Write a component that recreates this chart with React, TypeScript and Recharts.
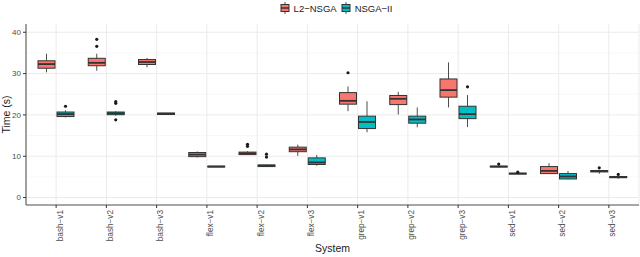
import React from "react";
import { ComposedChart, Bar, XAxis, YAxis, CartesianGrid } from "recharts";

const systems = [
  "bash−v1", "bash−v2", "bash−v3",
  "flex−v1", "flex−v2", "flex−v3",
  "grep−v1", "grep−v2", "grep−v3",
  "sed−v1", "sed−v2", "sed−v3",
];

// L2-NSGA box stats
const l2Low = [30.3, 30.7, 31.5, 9.7, 10.3, 10.1, 20.9, 20.1, 21.8, 7.3, 5.7, 5.75];
const l2Q1 = [31.3, 31.9, 32.2, 9.9, 10.4, 11.1, 22.6, 22.5, 24.3, 7.4, 5.8, 6.2];
const l2Med = [32.3, 32.6, 32.8, 10.4, 10.7, 11.65, 23.4, 23.9, 26.0, 7.5, 6.45, 6.4];
const l2Q3 = [33.1, 33.7, 33.4, 10.9, 11.0, 12.2, 25.4, 24.7, 28.7, 7.6, 7.5, 6.55];
const l2High = [34.8, 34.8, 33.8, 11.15, 11.2, 12.8, 26.9, 25.6, 32.7, 7.7, 8.3, 6.7];
const l2Out = [[], [36.6, 38.3], [], [], [12.4, 12.9], [], [30.2], [], [], [8.1], [], [7.2]];

// NSGA-II box stats
const nsLow = [19.4, 19.8, 20.0, 7.35, 7.4, 7.7, 15.8, 17.0, 17.05, 5.65, 4.4, 4.55];
const nsQ1 = [19.6, 20.05, 20.1, 7.4, 7.5, 8.0, 16.7, 18.0, 19.1, 5.7, 4.5, 4.8];
const nsMed = [20.2, 20.4, 20.3, 7.5, 7.7, 8.5, 18.3, 18.9, 20.2, 5.8, 5.1, 4.95];
const nsQ3 = [20.7, 20.7, 20.45, 7.6, 7.9, 9.6, 19.7, 19.7, 22.1, 5.9, 5.8, 5.1];
const nsHigh = [21.1, 20.9, 20.5, 7.65, 8.0, 10.3, 23.3, 21.8, 24.8, 5.95, 6.4, 5.2];
const nsOut = [[22.1], [18.8, 22.8, 23.2], [], [], [9.8, 10.5], [], [], [], [26.8], [6.15], [], [5.6]];

const yTicks = [0, 10, 20, 30, 40];
const yMinor = [5, 15, 25, 35];

const series = [
  { key: "l2", name: "L2−NSGA", color: "#F8766D" },
  { key: "ns", name: "NSGA−II", color: "#00BFC4" },
];

const font = "'Liberation Sans', Arial, sans-serif";

const stats = (lo, q1, med, q3, hi, out) => ({
  lo, q1, med, q3, hi, out,
  range: [Math.min(lo, ...out), Math.max(hi, ...out)],
});

const data = systems.map((name, i) => ({
  name,
  l2: stats(l2Low[i], l2Q1[i], l2Med[i], l2Q3[i], l2High[i], l2Out[i]),
  ns: stats(nsLow[i], nsQ1[i], nsMed[i], nsQ3[i], nsHigh[i], nsOut[i]),
}));

const BoxShape = (props: any) => {
  const { x, y, width, height, payload, k, color } = props;
  const s = payload[k];
  const [lo, hi] = s.range;
  const top = Math.min(y, y + height);
  const bot = Math.max(y, y + height);
  const px = (v: number) => (hi === lo ? top : bot - ((v - lo) / (hi - lo)) * (bot - top));
  const cx = x + width / 2;
  return (
    <g>
      <line x1={cx} x2={cx} y1={px(s.hi)} y2={px(s.q3)} stroke="#4D4D4D" strokeWidth={1} />
      <line x1={cx} x2={cx} y1={px(s.q1)} y2={px(s.lo)} stroke="#4D4D4D" strokeWidth={1} />
      <rect
        x={x}
        y={px(s.q3)}
        width={width}
        height={Math.max(px(s.q1) - px(s.q3), 0.5)}
        fill={color}
        stroke="#333333"
        strokeWidth={1}
      />
      <line x1={x} x2={x + width} y1={px(s.med)} y2={px(s.med)} stroke="#333333" strokeWidth={1.8} />
      {s.out.map((v: number, j: number) => (
        <circle key={j} cx={cx} cy={px(v)} r={1.6} fill="#1A1A1A" />
      ))}
    </g>
  );
};

const XTick = (props: any) => {
  const { x, y, payload } = props;
  return (
    <text
      x={x}
      y={y}
      dy={6.5}
      transform={`rotate(-90 ${x} ${y})`}
      textAnchor="end"
      fontSize={8.2}
      fill="#4D4D4D"
      fontFamily={font}
    >
      {payload.value}
    </text>
  );
};

const LegendGlyph = ({ color }: { color: string }) => (
  <svg width={10} height={12} style={{ display: "block" }}>
    <line x1={5} x2={5} y1={0} y2={12} stroke="#4D4D4D" strokeWidth={1} />
    <rect x={1} y={2.5} width={8} height={7} fill={color} stroke="#333333" strokeWidth={1} />
    <line x1={1} x2={9} y1={6} y2={6} stroke="#333333" strokeWidth={1.5} />
  </svg>
);

export default function App() {
  return (
    <div style={{ position: "absolute", left: 0, top: 0, width: 640, height: 257, background: "#fff" }}>
      <div
        style={{
          position: "absolute",
          top: 2,
          left: 18,
          width: 640,
          display: "flex",
          justifyContent: "center",
          alignItems: "center",
          fontFamily: font,
          fontSize: 9.5,
          color: "#1A1A1A",
        }}
      >
        {series.map((s) => (
          <div key={s.key} style={{ display: "flex", alignItems: "center", marginRight: 4 }}>
            <LegendGlyph color={s.color} />
            <span style={{ marginLeft: 4 }}>{s.name}</span>
          </div>
        ))}
      </div>
      <ComposedChart
        width={640}
        height={257}
        data={data}
        margin={{ top: 24, right: 1, bottom: 0, left: 0 }}
        barGap={2}
        barSize={17}
      >
        <CartesianGrid horizontalValues={yMinor} vertical={false} stroke="#F3F3F3" strokeWidth={0.6} />
        <CartesianGrid horizontalValues={yTicks} stroke="#EBEBEB" strokeWidth={1} />
        <XAxis
          dataKey="name"
          type="category"
          height={52}
          padding={{ left: 5, right: 5 }}
          interval={0}
          tick={<XTick />}
          tickSize={3}
          tickMargin={2}
          tickLine={{ stroke: "#333333" }}
          axisLine={{ stroke: "#4D4D4D" }}
          label={{
            value: "System",
            position: "insideBottom",
            offset: 5,
            fontSize: 10.5,
            fill: "#1A1A1A",
            fontFamily: font,
          }}
        />
        <XAxis xAxisId="top" dataKey="name" orientation="top" height={0} tick={false} tickLine={false} axisLine={{ stroke: "#4D4D4D" }} />
        <YAxis
          type="number"
          domain={[-1.8, 42]}
          ticks={yTicks}
          width={26}
          tickSize={3}
          tickMargin={2}
          tick={{ fontSize: 8, fill: "#4D4D4D", fontFamily: font }}
          tickLine={{ stroke: "#333333" }}
          axisLine={{ stroke: "#4D4D4D" }}
          label={{
            value: "Time (s)",
            angle: -90,
            position: "insideLeft",
            offset: 6.5,
            fontSize: 10.5,
            fill: "#1A1A1A",
            fontFamily: font,
            style: { textAnchor: "middle" },
          }}
        />
        <YAxis yAxisId="right" orientation="right" type="number" domain={[-1.8, 42]} width={0} tick={false} tickLine={false} axisLine={{ stroke: "#4D4D4D" }} />
        {series.map((s) => (
          <Bar
            key={s.key}
            dataKey={(d: any) => d[s.key].range}
            name={s.name}
            fill={s.color}
            isAnimationActive={false}
            shape={(p: any) => <BoxShape {...p} k={s.key} color={s.color} />}
          />
        ))}
      </ComposedChart>
    </div>
  );
}
